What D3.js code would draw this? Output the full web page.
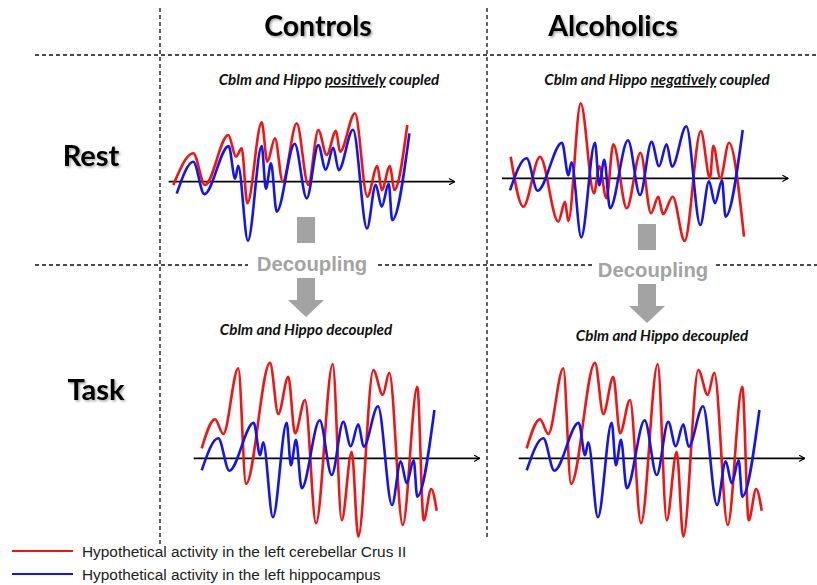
<!DOCTYPE html>
<html>
<head>
<meta charset="utf-8">
<script src="https://cdn.jsdelivr.net/npm/d3@7"></script>
<style>
  body { margin: 0; background: #fff; }
  svg { display: block; }
</style>
</head>
<body>
<svg id="chart" width="817" height="585"></svg>
<script>
// hippocampus trace, same in every panel (time in a.u., amplitude in a.u.)
const hippoTime = [0, 16.6, 27.6, 52, 58.4, 61.5, 71.2, 85, 89.2, 94.3, 100, 118, 130, 141.6, 149, 156.6, 162, 176.3, 190.3, 199, 205, 212, 215.5, 232.7]
const hippoAmp  = [-12, 20, -12.4, 35.6, 3, 16, -59, 35.6, -7, 18.4, -30, 38, -16.7, 36.6, 12, 34, 11.6, 52, -46.7, -3, -25, -2, -38.4, 48.3]

// cerebellar Crus II, controls at rest (positively coupled)
const crusCtrlRestTime = [-3.4, 16.6, 28.3, 51.6, 59.3, 65, 70.6, 85, 90.6, 98.3, 106, 120, 131.6, 141.6, 150, 159.3, 163.3, 178.3, 190.6, 200.6, 205, 213.3, 217.6, 230.6]
const crusCtrlRestAmp  = [-3.3, 28.4, -3.3, 46.7, 25, 33.4, -21.6, 59.4, 20, 43.4, 0, 58.4, -3.3, 51.7, 26.7, 51, 30, 68.4, -15, 15.7, -8.3, 15.7, -8.3, 56.7]

// cerebellar Crus II, alcoholics at rest (negatively coupled)
const crusAlcRestTime = [0.7, 13.3, 30, 48.3, 55, 58.3, 70.7, 84, 89.3, 96.5, 103.3, 116.7, 130.5, 141, 148.3, 153, 162.7, 174.6, 190.8, 200, 203.3, 210.3, 219, 234]
const crusAlcRestAmp  = [21.6, -28.4, 21.6, -43.4, -23.4, -42.7, 75, -15, 12, -20, 34, -30, 25.6, -35, -18.4, -36, -18.4, -62.7, 47.3, 0, 32.6, 0, 35.5, -58.4]

// cerebellar Crus II during task (decoupled, both groups)
const crusTaskTime = [0, 13.3, 21.6, 36.6, 44.3, 68.3, 76.6, 86.6, 93.3, 103.3, 114.3, 131, 140, 150, 156.6, 171.6, 181, 187.6, 201, 215.6, 222, 229.5, 235]
const crusTaskAmp  = [10, 39, 24.3, 90, -25.7, 95.6, 44.3, 81.6, 25, 58.3, -65, 94.3, -62, 6.6, -78.4, 88.3, 63.3, 85.6, -66.7, 71.6, -62, -30.7, -52.4]

const groupLabels = ['Controls', 'Alcoholics']
const stateLabels = ['Rest', 'Task']
const legendLabels = ['Hypothetical activity in the left cerebellar Crus II', 'Hypothetical activity in the left hippocampus']

const RED = '#f21313'
const BLUE = '#1414ef'
const GRAY = '#a3a3a3'

const svg = d3.select('#chart')

// defs: heading shadow + axis arrow
const defs = svg.append('defs')
const shadow = defs.append('filter')
  .attr('id', 'txtShadow')
  .attr('x', '-10%').attr('y', '-20%')
  .attr('width', '130%').attr('height', '150%')
shadow.append('feDropShadow')
  .attr('dx', 1.5).attr('dy', 1.5)
  .attr('stdDeviation', 1)
  .attr('flood-color', '#000')
  .attr('flood-opacity', 0.35)

defs.append('marker')
  .attr('id', 'arrow')
  .attr('viewBox', '0 0 10 10')
  .attr('refX', 9).attr('refY', 5)
  .attr('markerWidth', 7).attr('markerHeight', 7)
  .attr('markerUnits', 'userSpaceOnUse')
  .attr('orient', 'auto')
  .append('path')
  .attr('d', 'M 1 0.5 L 9 5 L 1 9.5')
  .attr('fill', 'none')
  .attr('stroke', '#000')
  .attr('stroke-width', 1.6)

// dashed grid lines
const dash = svg.append('g')
  .attr('stroke', '#111')
  .attr('stroke-width', 1.3)
  .attr('stroke-dasharray', '4,3')
const gridLines = [
  [160, 8, 160, 545], [487, 8, 487, 540],
  [35, 55, 817, 55],
  [35, 265, 248, 265], [378, 265, 592, 265], [716, 265, 817, 265]
]
gridLines.forEach(l => {
  dash.append('line').attr('x1', l[0]).attr('y1', l[1]).attr('x2', l[2]).attr('y2', l[3])
})

// headings
const colCenters = [318, 613]
svg.selectAll('text.group')
  .data(groupLabels)
  .enter()
  .append('text')
  .attr('class', 'group')
  .attr('x', (d, i) => colCenters[i])
  .attr('y', 36)
  .attr('text-anchor', 'middle')
  .attr('font-family', 'Lato, "Open Sans", sans-serif')
  .attr('font-weight', 'bold')
  .attr('font-size', '28.5px')
  .attr('filter', 'url(#txtShadow)')
  .text(d => d)

const rowPos = [[91, 166], [96, 400]]
svg.selectAll('text.state')
  .data(stateLabels)
  .enter()
  .append('text')
  .attr('class', 'state')
  .attr('x', (d, i) => rowPos[i][0])
  .attr('y', (d, i) => rowPos[i][1])
  .attr('text-anchor', 'middle')
  .attr('font-family', 'Lato, "Open Sans", sans-serif')
  .attr('font-weight', 'bold')
  .attr('font-size', '29px')
  .attr('filter', 'url(#txtShadow)')
  .text(d => d)

// panel subtitles
function subtitle(x, y, pre, under, post) {
  const t = svg.append('text')
    .attr('x', x).attr('y', y)
    .attr('text-anchor', 'middle')
    .attr('font-family', 'Lato, "Open Sans", sans-serif')
    .attr('font-style', 'italic')
    .attr('font-weight', 'bold')
    .attr('font-size', '15.2px')
    .attr('fill', '#111')
  t.append('tspan').text(pre)
  if (under) {
    t.append('tspan').attr('text-decoration', 'underline').text(under)
    t.append('tspan').text(post)
  }
}
subtitle(329, 85, 'Cblm and Hippo ', 'positively', ' coupled')
subtitle(657, 85, 'Cblm and Hippo ', 'negatively', ' coupled')
subtitle(306, 335, 'Cblm and Hippo decoupled')
subtitle(662, 341, 'Cblm and Hippo decoupled')

// "Decoupling" block arrows
function decoupling(cx, textX, rectTop, textY, arrowTop) {
  const g = svg.append('g').attr('fill', GRAY)
  g.append('rect')
    .attr('x', cx - 9).attr('y', rectTop)
    .attr('width', 18).attr('height', 26)
  g.append('text')
    .attr('x', textX).attr('y', textY)
    .attr('text-anchor', 'middle')
    .attr('font-family', '"Liberation Sans", Arial, sans-serif')
    .attr('font-weight', 'bold')
    .attr('font-size', '20.3px')
    .text('Decoupling')
  g.append('path')
    .attr('d', `M ${cx - 9} ${arrowTop} H ${cx + 9} V ${arrowTop + 22} H ${cx + 18} L ${cx} ${arrowTop + 39} L ${cx - 18} ${arrowTop + 22} H ${cx - 9} Z`)
}
decoupling(306, 312, 217, 271, 278)
decoupling(647, 653, 224, 277, 284)

// wave panels
const panels = [
  { x0: 176.7, axisY: 181.7, crusTime: crusCtrlRestTime, crusAmp: crusCtrlRestAmp },
  { x0: 510,   axisY: 178.3, crusTime: crusAlcRestTime,  crusAmp: crusAlcRestAmp },
  { x0: 201.7, axisY: 458.3, crusTime: crusTaskTime,     crusAmp: crusTaskAmp },
  { x0: 526.7, axisY: 458.3, crusTime: crusTaskTime,     crusAmp: crusTaskAmp }
]

panels.forEach(p => {
  const x = d3.scaleLinear().domain([-8, 278]).range([p.x0 - 8, p.x0 + 278])
  const y = d3.scaleLinear().domain([-100, 100]).range([p.axisY + 100, p.axisY - 100])
  const line = d3.line()
    .x(d => x(d[0]))
    .y(d => y(d[1]))
    .curve(d3.curveMonotoneX)

  const g = svg.append('g').attr('class', 'panel')

  // time axis with open arrow head
  g.append('line')
    .attr('x1', x(-8)).attr('x2', x(278))
    .attr('y1', y(0)).attr('y2', y(0))
    .attr('stroke', '#000')
    .attr('stroke-width', 1.8)
    .attr('marker-end', 'url(#arrow)')

  const crus = d3.zip(p.crusTime, p.crusAmp)
  const hippo = d3.zip(hippoTime, hippoAmp)

  g.append('path')
    .datum(crus)
    .attr('d', line)
    .attr('fill', 'none')
    .attr('stroke', RED)
    .attr('stroke-width', 2.6)
    .attr('stroke-linejoin', 'round')

  g.append('path')
    .datum(hippo)
    .attr('d', line)
    .attr('fill', 'none')
    .attr('stroke', BLUE)
    .attr('stroke-width', 2.6)
    .attr('stroke-linejoin', 'round')
})

// legend
const legendColors = [RED, BLUE]
const legend = svg.append('g').attr('class', 'legend')
const item = legend.selectAll('g')
  .data(legendLabels)
  .enter()
  .append('g')
  .attr('transform', (d, i) => `translate(0, ${551 + i * 23})`)
item.append('line')
  .attr('x1', 12).attr('x2', 73)
  .attr('stroke', (d, i) => legendColors[i])
  .attr('stroke-width', 1.8)
item.append('text')
  .attr('x', 82).attr('y', 5.5)
  .attr('font-family', '"Liberation Sans", Arial, sans-serif')
  .attr('font-size', '15.4px')
  .attr('fill', '#222')
  .text(d => d)
</script>
</body>
</html>
